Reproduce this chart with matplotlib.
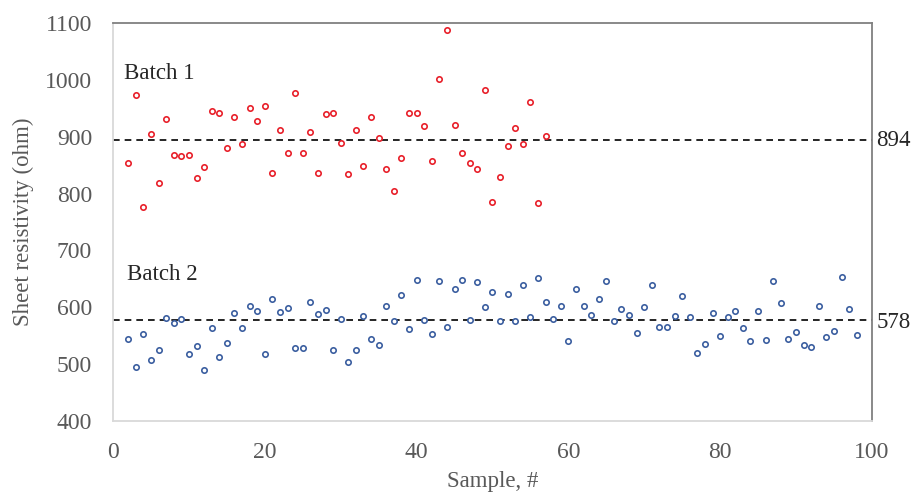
import matplotlib
matplotlib.use("Agg")
import matplotlib.pyplot as plt

plt.rcParams['font.family'] = ['Liberation Serif', 'DejaVu Serif']

# batch 1 (red) - samples 2..57
batch1_x = list(range(2, 58))
batch1_y = [854, 974, 776, 905, 819, 931, 868, 866, 867, 827, 847, 945, 942, 880,
            934, 887, 951, 928, 954, 836, 911, 871, 976, 871, 908, 837, 940, 942,
            889, 835, 912, 848, 935, 898, 844, 805, 863, 942, 942, 918, 857, 1002,
            1088, 921, 871, 854, 844, 983, 786, 829, 883, 916, 887, 961, 783, 901]

# batch 2 (blue) - samples 2..98
batch2_x = list(range(2, 99))
batch2_y = [544, 495, 553, 508, 525, 582, 572, 579, 518, 532, 490, 564, 512, 538,
            590, 563, 603, 594, 518, 614, 591, 598, 528, 528, 609, 588, 596, 525,
            579, 503, 525, 584, 544, 533, 603, 575, 622, 561, 648, 577, 553, 647,
            565, 632, 648, 577, 645, 601, 626, 576, 623, 576, 640, 583, 651, 610,
            580, 602, 541, 633, 602, 586, 614, 646, 576, 597, 586, 554, 600, 639,
            566, 566, 584, 619, 583, 520, 536, 590, 549, 583, 593, 563, 541, 594,
            543, 646, 607, 545, 556, 534, 530, 603, 548, 558, 654, 597, 551]

mean1 = 894
mean2 = 578
x_ticks = [0, 20, 40, 60, 80, 100]
y_ticks = [400, 500, 600, 700, 800, 900, 1000, 1100]

fig = plt.figure(figsize=(9.13, 4.92), dpi=100)
ax = fig.add_axes([0.1238, 0.1443, 0.8312, 0.809])

ax.scatter(batch1_x, batch1_y, s=15, facecolors='white', edgecolors='#e8212b',
           linewidths=1.2, zorder=3)
ax.scatter(batch2_x, batch2_y, s=15, facecolors='white', edgecolors='#3c5fa0',
           linewidths=1.2, zorder=3)

ax.axhline(mean1, color='black', linestyle=(0, (4, 3)), linewidth=1.2, zorder=2)
ax.axhline(mean2, color='black', linestyle=(0, (4, 3)), linewidth=1.2, zorder=2)

ax.set_xlim(0, 100)
ax.set_ylim(400, 1100)
ax.set_xticks(x_ticks)
ax.set_yticks(y_ticks)
ax.tick_params(length=0, labelsize=17, colors='#595959')
ax.tick_params(axis='y', pad=15)
ax.tick_params(axis='x', pad=15)

ax.spines['left'].set_color('#d9d9d9')
ax.spines['bottom'].set_color('#d9d9d9')
ax.spines['top'].set_color('#808080')
ax.spines['right'].set_color('#808080')
for s in ax.spines.values():
    s.set_linewidth(1.3)

ax.set_xlabel('Sample, #', fontsize=16.5, color='#595959', labelpad=6)
ax.set_ylabel('Sheet resistivity (ohm)', fontsize=16.5, color='#595959', labelpad=8)

ax.text(1.5, 1012, 'Batch 1', fontsize=16.5, color='#262626', va='center')
ax.text(1.9, 657, 'Batch 2', fontsize=16.5, color='#262626', va='center')

ax.text(1.006, mean1, str(mean1), fontsize=16.5, color='#262626', va='center',
        transform=ax.get_yaxis_transform(), clip_on=False)
ax.text(1.006, mean2 - 4, str(mean2), fontsize=16.5, color='#262626', va='center',
        transform=ax.get_yaxis_transform(), clip_on=False)

fig.savefig('out.png', dpi=100)
